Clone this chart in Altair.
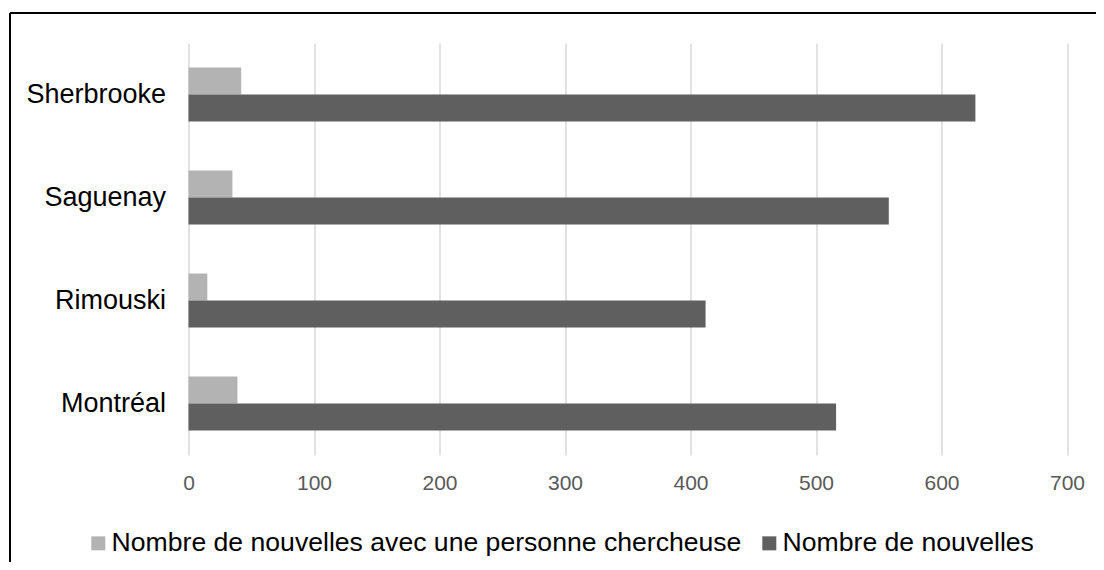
import altair as alt
import pandas as pd

villes = ["Sherbrooke", "Saguenay", "Rimouski", "Montréal"]
avec_chercheuse = [42, 35, 15, 39]
nouvelles = [627, 558, 412, 516]
series = ["Nombre de nouvelles avec une personne chercheuse", "Nombre de nouvelles"]
couleurs = ["#b3b3b3", "#5f5f5f"]
graduations = [0, 100, 200, 300, 400, 500, 600, 700]

rows = []
for v, a, n in zip(villes, avec_chercheuse, nouvelles):
    rows.append({"ville": v, "serie": series[0], "valeur": a})
    rows.append({"ville": v, "serie": series[1], "valeur": n})
df = pd.DataFrame(rows)

font = "Liberation Sans"

bars = alt.Chart(df).mark_bar().encode(
    y=alt.Y(
        "ville:N",
        sort=villes,
        scale=alt.Scale(paddingInner=0.476, paddingOuter=0.238),
        axis=alt.Axis(
            title=None, labelFontSize=27, labelColor="#000000", labelFont=font,
            ticks=False, domain=False, labelPadding=23, grid=False,
        ),
    ),
    yOffset=alt.YOffset("serie:N", sort=series, scale=alt.Scale(paddingInner=0, paddingOuter=0)),
    x=alt.X(
        "valeur:Q",
        scale=alt.Scale(domain=[0, 700], nice=False),
        axis=alt.Axis(
            title=None, values=graduations, grid=True, gridColor="#d9d9d9", gridWidth=1.5,
            domain=False, ticks=False, tickSize=0, labelFontSize=21, labelColor="#595959",
            labelFont=font, labelPadding=17, labelFlush=False,
        ),
    ),
    color=alt.Color(
        "serie:N",
        sort=series,
        scale=alt.Scale(domain=series, range=couleurs),
        legend=alt.Legend(
            title=None, orient="none", direction="horizontal", legendX=-103.5, legendY=487,
            symbolType="square", symbolSize=196, symbolStrokeWidth=0, labelFontSize=26.6,
            labelFont=font, labelColor="#000000", labelLimit=1000, labelOffset=0,
            columnPadding=14, padding=0,
        ),
    ),
)

frame_df = pd.DataFrame({"k": [0]})
top_line = alt.Chart(frame_df).mark_rule(color="black", strokeWidth=2).encode(
    x=alt.value(-178.5), x2=alt.value(960), y=alt.value(-30)
)
left_line = alt.Chart(frame_df).mark_rule(color="black", strokeWidth=2).encode(
    x=alt.value(-178.5), y=alt.value(-30), y2=alt.value(700)
)

chart = alt.layer(bars, top_line, left_line).properties(
    width=878.5,
    height=412,
    autosize=alt.AutoSizeParams(type="none"),
    padding={"left": 180.5, "top": 35, "right": 29, "bottom": 107},
    background="white",
).configure_view(strokeWidth=0)

chart.save("out.html", embed_options={"renderer": "svg", "actions": False})
